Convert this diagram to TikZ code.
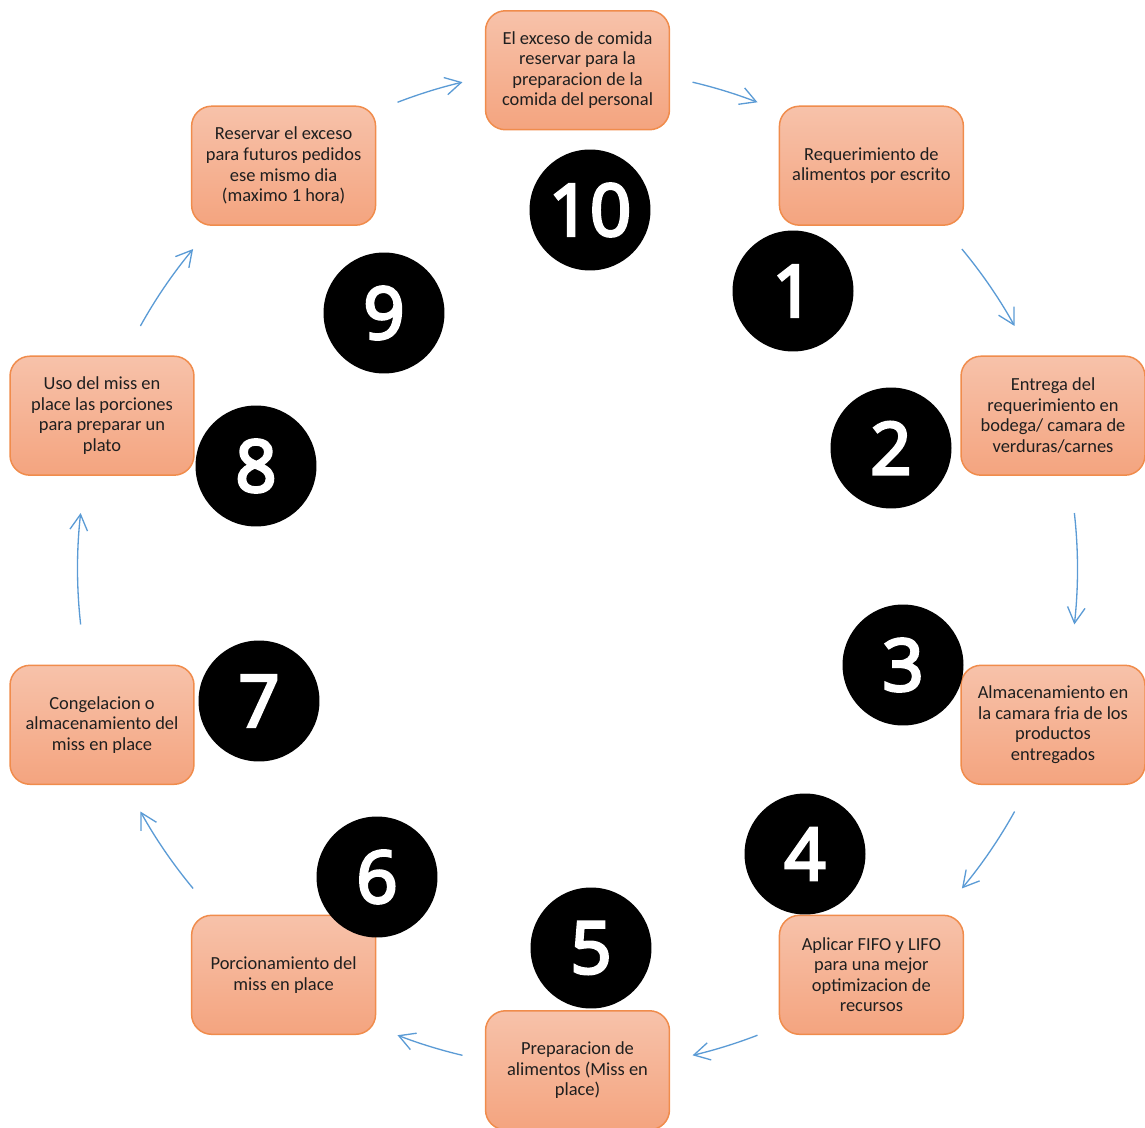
\documentclass[tikz,border=0pt]{standalone}
\usepackage{fontspec}
\setmainfont{Carlito}
\newfontfamily\numfont[FakeBold=4]{Open Sans}
\usetikzlibrary{arrows.meta}
\definecolor{peachtop}{HTML}{F7C2AA}
\definecolor{peachbot}{HTML}{F4A47F}
\definecolor{peachline}{HTML}{F08C4C}
\definecolor{flowblue}{HTML}{5B9BD5}

\begin{document}
\begin{tikzpicture}[x=0.02cm,y=0.02cm,
  stepbox/.style={rectangle, rounded corners=0.4cm, draw=peachline, line width=0.85pt,
    top color=peachtop, bottom color=peachbot, minimum width=3.68cm, minimum height=2.38cm,
    align=center, text=black!88, inner sep=2pt, font=\fontsize{10.5}{11.7}\selectfont},
  numdot/.style={circle, fill=black, minimum size=2.42cm, inner sep=0pt, text=white,
    font=\numfont\fontsize{41}{41}\selectfont},
  flow/.style={draw=flowblue, line width=0.75pt, -{Straight Barb[length=9pt,width=10pt]}}]
\useasboundingbox (0,0) rectangle (1145,1127);
\coordinate (ring) at (577.5,558.25);

% steps
\node[stepbox] (s10) at (577.5,1056.75) {El exceso de comida\\reservar para la\\preparacion de la\\comida del personal};
\node[stepbox] (s1) at (871.4,961.3) {Requerimiento de\\alimentos por escrito};
\node[stepbox] (s2) at (1053,711.3) {Entrega del\\requerimiento en\\bodega/ camara de\\verduras/carnes};
\node[stepbox] (s3) at (1053,402.2) {Almacenamiento en\\la camara fria de los\\productos\\entregados};
\node[stepbox] (s4) at (871.4,152.2) {Aplicar FIFO y LIFO\\para una mejor\\optimizacion de\\recursos};
\node[stepbox] (s5) at (577.5,56.75) {Preparacion de\\alimentos (Miss en\\place)};
\node[stepbox] (s6) at (283.6,152.2) {Porcionamiento del\\miss en place};
\node[stepbox] (s7) at (102,402.2) {Congelacion o\\almacenamiento del\\miss en place};
\node[stepbox] (s8) at (102,711.3) {Uso del miss en\\place las porciones\\para preparar un\\plato};
\node[stepbox] (s9) at (283.6,961.3) {Reservar el exceso\\para futuros pedidos\\ese mismo dia\\(maximo 1 hora)};

% numbers
\node[numdot] (n10) at (590,917) {10};
\node[numdot] (n1) at (793,836) {1};
\node[numdot] (n2) at (891,679) {2};
\node[numdot] (n3) at (903,462) {3};
\node[numdot] (n4) at (805,273) {4};
\node[numdot] (n5) at (591,179) {5};
\node[numdot] (n6) at (377,250) {6};
\node[numdot] (n7) at (259,426) {7};
\node[numdot] (n8) at (256,661) {8};
\node[numdot] (n9) at (384,814) {9};

% cycle arrows on the ring
\draw[flow] ([shift={(76.7:500)}]ring) arc[start angle=76.7, end angle=68.9, radius=500];
\draw[flow] ([shift={(39.75:500)}]ring) arc[start angle=39.75, end angle=29.05, radius=500];
\draw[flow] ([shift={(6.4:500)}]ring) arc[start angle=6.4, end angle=-6.4, radius=500];
\draw[flow] ([shift={(-29.05:500)}]ring) arc[start angle=-29.05, end angle=-39.75, radius=500];
\draw[flow] ([shift={(-68.9:500)}]ring) arc[start angle=-68.9, end angle=-76.7, radius=500];
\draw[flow] ([shift={(-103.3:500)}]ring) arc[start angle=-103.3, end angle=-111.1, radius=500];
\draw[flow] ([shift={(-140.25:500)}]ring) arc[start angle=-140.25, end angle=-150.95, radius=500];
\draw[flow] ([shift={(-173.6:500)}]ring) arc[start angle=-173.6, end angle=-186.4, radius=500];
\draw[flow] ([shift={(150.95:500)}]ring) arc[start angle=150.95, end angle=140.25, radius=500];
\draw[flow] ([shift={(111.1:500)}]ring) arc[start angle=111.1, end angle=103.3, radius=500];

\end{tikzpicture}
\end{document}
